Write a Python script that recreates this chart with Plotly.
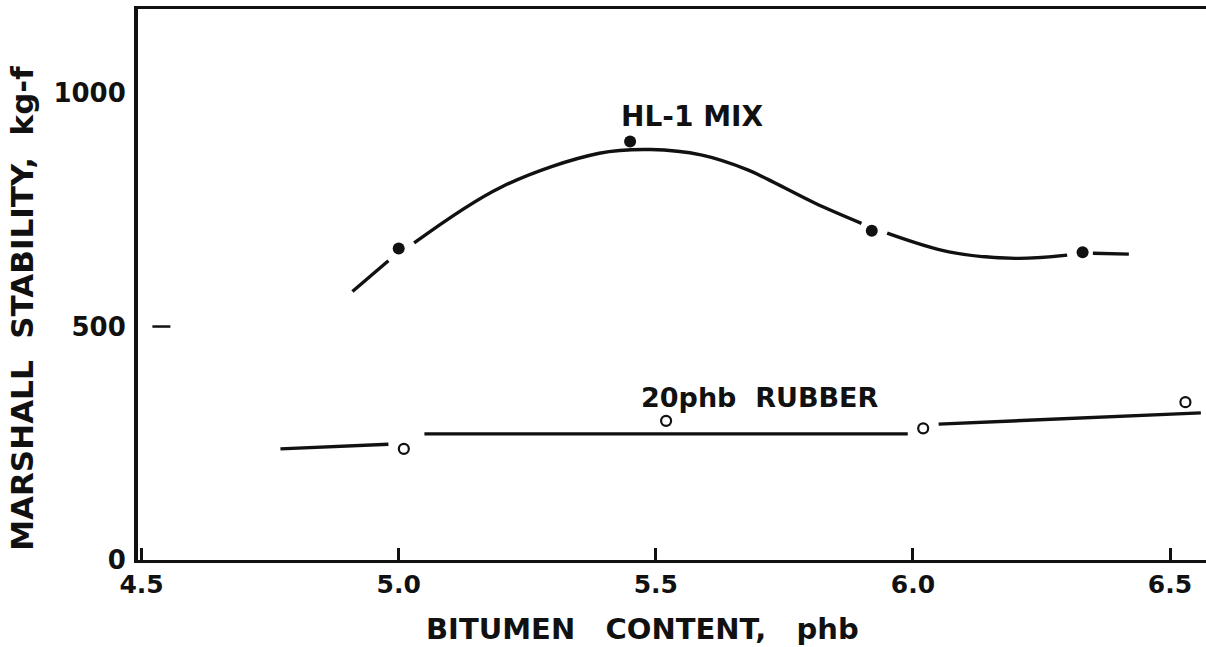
import plotly.graph_objects as go

# measured points (bitumen content, phb / Marshall stability, kg-f)
hl1_x = [5.00, 5.45, 5.92, 6.33]
hl1_y = [667, 896, 705, 659]
rubber_x = [5.01, 5.52, 6.02, 6.53]
rubber_y = [238, 298, 282, 338]

# hand drawn fit lines, broken around the plotted points
hl1_curve_x = [4.91, 4.98, None, 5.03, 5.20, 5.39, 5.49, 5.59, 5.68, 5.72, 5.81, 5.90,
               None, 5.95, 6.07, 6.20, 6.30, None, 6.35, 6.42]
hl1_curve_y = [575, 641, None, 679, 799, 871, 879, 867, 835, 814, 764, 721,
               None, 700, 660, 646, 653, None, 657, 655]
rubber_line_x = [4.77, 4.98, None, 5.05, 5.99, None, 6.05, 6.56]
rubber_line_y = [238, 248, None, 270, 270, None, 291, 315]

x_ticks = [4.5, 5.0, 5.5, 6.0, 6.5]
x_ticktext = ["4.5", "5.0", "5.5", "6.0", "6.5"]
y_ticks = [0, 500, 1000]
y_ticktext = ["0", "500", "1000"]

FONT = "DejaVu Sans"
INK = "#111111"


def get_figure():
    '''
    Builds the Marshall stability vs bitumen content figure.
    '''
    fig = go.Figure()

    fig.add_trace(go.Scatter(x=hl1_curve_x, y=hl1_curve_y, mode="lines",
                             line=dict(color=INK, width=3.4, shape="spline", smoothing=1.0),
                             connectgaps=False, hoverinfo="skip"))
    fig.add_trace(go.Scatter(x=hl1_x, y=hl1_y, mode="markers", name="HL-1 MIX",
                             marker=dict(color=INK, size=12, symbol="circle")))

    fig.add_trace(go.Scatter(x=rubber_line_x, y=rubber_line_y, mode="lines",
                             line=dict(color=INK, width=3.4),
                             connectgaps=False, hoverinfo="skip"))
    fig.add_trace(go.Scatter(x=rubber_x, y=rubber_y, mode="markers", name="20phb RUBBER",
                             marker=dict(color=INK, size=10, symbol="circle-open",
                                         line=dict(color=INK, width=2.2))))

    fig.update_layout(
        width=1206, height=647,
        margin=dict(l=138, r=0, t=9, b=87),
        paper_bgcolor="white", plot_bgcolor="white",
        showlegend=False,
        font=dict(family=FONT, color=INK),
        xaxis=dict(range=[4.493, 6.570], showgrid=False, zeroline=False,
                   showline=True, linecolor=INK, linewidth=3, mirror=True,
                   tickvals=x_ticks, ticktext=x_ticktext,
                   ticks="inside", ticklen=12, tickwidth=3, tickcolor=INK,
                   ticklabelstandoff=0,
                   tickfont=dict(family=FONT, size=25, color=INK, weight="bold")),
        yaxis=dict(range=[0, 1180], showgrid=False, zeroline=False,
                   showline=True, linecolor=INK, linewidth=4,
                   tickvals=y_ticks, ticktext=y_ticktext, ticks="",
                   ticklabelstandoff=3,
                   tickfont=dict(family=FONT, size=26, color=INK, weight="bold")),
        shapes=[dict(type="line", xref="x", yref="y", x0=4.521, x1=4.556, y0=500, y1=500,
                     line=dict(color=INK, width=2.5))],
        annotations=[
            dict(text="HL-1 MIX", x=5.571, y=950, xref="x", yref="y", showarrow=False,
                 font=dict(family=FONT, size=28, color=INK, weight="bold")),
            dict(text="20phb  RUBBER", x=5.703, y=348, xref="x", yref="y", showarrow=False,
                 font=dict(family=FONT, size=27, color=INK, weight="bold")),
            dict(text="BITUMEN   CONTENT,   phb", x=0.472, y=-0.125, xref="paper", yref="paper",
                 showarrow=False, xanchor="center", yanchor="middle",
                 font=dict(family=FONT, size=29, color=INK, weight="bold")),
            dict(text="MARSHALL  STABILITY,  kg-f", x=-0.108, y=0.457, xref="paper", yref="paper",
                 showarrow=False, textangle=-90, xanchor="center", yanchor="middle",
                 font=dict(family=FONT, size=31, color=INK, weight="bold")),
        ],
    )
    return fig


fig = get_figure()
# drop the page's default body margin so the figure sits at the window's corner
fig.write_html("out.html", config={"displayModeBar": False},
               post_script="document.body.style.margin = '0';")
